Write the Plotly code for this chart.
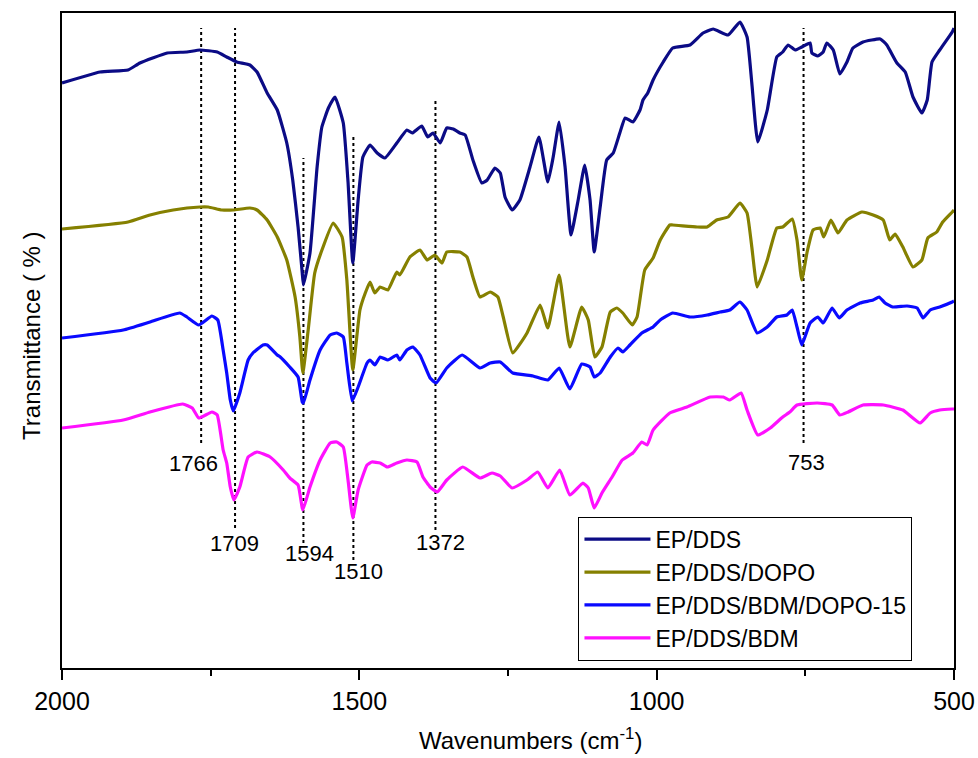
import plotly.graph_objects as go

# ---------------- data ----------------
wn_epdds = [2000, 1936, 1889, 1869, 1823, 1790, 1768, 1739, 1723, 1706, 1684, 1672, 1655, 1638, 1622, 1612,
            1603, 1596, 1594, 1583, 1571, 1563, 1552, 1541, 1527, 1519, 1511, 1502, 1494, 1482, 1470, 1457,
            1437, 1420, 1411, 1395, 1385, 1376, 1364, 1353, 1342, 1331, 1322, 1309, 1294, 1285, 1272, 1263,
            1255, 1243, 1230, 1213, 1198, 1183, 1174, 1164, 1154, 1144, 1132, 1121, 1112, 1105, 1095, 1084,
            1073, 1062, 1053, 1040, 1028, 1023, 1015, 1006, 989, 973, 944, 922, 905, 880, 860, 848, 840, 830,
            814, 798, 788, 779, 767, 756, 742, 739, 729, 720, 714, 703, 692, 680, 670, 653, 624, 613, 596,
            582, 569, 554, 545, 537, 524, 503, 500]
t_epdds = [585, 596, 598, 605, 615, 616, 618, 616, 611, 606, 603, 596, 575, 558, 525, 488,
           441, 395, 383, 415, 501, 541, 560, 571, 545, 486, 405, 468, 511, 523, 515, 510,
           525, 538, 535, 542, 531, 535, 525, 540, 539, 535, 533, 508, 485, 488, 500, 495,
           471, 458, 468, 501, 531, 486, 511, 546, 501, 433, 468, 503, 468, 416, 461, 508,
           515, 535, 550, 546, 558, 568, 575, 588, 606, 620, 623, 635, 639, 633, 646, 631, 585, 526,
           558, 611, 616, 623, 618, 621, 625, 615, 612, 616, 625, 618, 594, 606, 620, 626, 629, 623, 605,
           596, 571, 555, 568, 606, 618, 636, 640]

wn_dopo = [2000, 1889, 1852, 1813, 1768, 1754, 1731, 1712, 1684, 1672, 1655, 1638, 1622, 1608, 1600, 1595,
           1586, 1575, 1561, 1544, 1529, 1521, 1511, 1499, 1490, 1482, 1474, 1465, 1452, 1437, 1432, 1415,
           1398, 1386, 1373, 1361, 1353, 1331, 1319, 1309, 1297, 1280, 1267, 1258, 1242, 1218, 1196, 1183,
           1164, 1146, 1126, 1115, 1104, 1092, 1078, 1067, 1057, 1041, 1033, 1020, 1006, 994, 978, 973,
           932, 915, 899, 880, 860, 848, 840, 831, 814, 798, 788, 772, 764, 756, 747, 737, 725, 719, 707,
           695, 680, 655, 636, 619, 608, 599, 586, 569, 554, 544, 529, 519, 503, 500]
t_dopo = [439, 446, 453, 458, 461, 461, 458, 458, 460, 458, 448, 431, 408, 371, 331, 295,
          338, 395, 421, 445, 431, 388, 298, 358, 375, 386, 375, 381, 378, 396, 393, 411,
          418, 408, 413, 405, 416, 416, 411, 391, 371, 376, 371, 351, 315, 335, 363, 340,
          393, 321, 361, 348, 311, 321, 356, 360, 355, 343, 351, 398, 410, 428, 443, 443,
          441, 441, 448, 451, 465, 455, 421, 381, 408, 440, 441, 449, 428, 388, 416, 438, 440, 431, 448,
          435, 448, 456, 453, 448, 428, 434, 421, 401, 408, 430, 436, 446, 456, 458]

wn_bdm_dopo = [2000, 1897, 1852, 1802, 1790, 1770, 1748, 1738, 1729, 1723, 1717, 1712, 1701, 1687, 1679,
               1662, 1655, 1638, 1633, 1617, 1603, 1596, 1594, 1583, 1566, 1549, 1538, 1527, 1521, 1512,
               1502, 1487, 1482, 1474, 1465, 1452, 1437, 1432, 1420, 1410, 1398, 1381, 1371, 1353, 1327,
               1297, 1280, 1263, 1242, 1208, 1183, 1164, 1146, 1126, 1112, 1105, 1095, 1078, 1065, 1057,
               1045, 1025, 1006, 994, 973, 944, 915, 893, 877, 860, 848, 831, 814, 798, 781, 772, 764, 756,
               742, 729, 720, 705, 693, 680, 658, 636, 626, 616, 603, 579, 562, 552, 540, 524, 503, 500]
t_bdm_dopo = [330, 338, 346, 355, 351, 343, 352, 348, 318, 295, 268, 257, 275, 308, 315,
              323, 323, 313, 311, 301, 291, 266, 265, 288, 318, 333, 335, 331, 305, 267,
              281, 305, 308, 303, 311, 308, 313, 308, 318, 321, 313, 290, 285, 300, 313,
              300, 305, 306, 295, 292, 288, 300, 279, 304, 301, 291, 295, 311, 320, 316,
              323, 335, 341, 348, 355, 351, 353, 356, 358, 366, 358, 335, 341, 351, 353, 358, 341, 323,
              345, 351, 345, 360, 350, 358, 365, 368, 371, 365, 361, 362, 360, 350, 358, 361, 366, 367]

wn_bdm = [2000, 1897, 1852, 1797, 1781, 1770, 1748, 1739, 1729, 1723, 1717, 1711, 1701, 1687, 1672, 1650,
          1628, 1617, 1603, 1595, 1583, 1566, 1549, 1538, 1527, 1519, 1511, 1502, 1487, 1479, 1465, 1453,
          1437, 1420, 1403, 1393, 1381, 1369, 1353, 1326, 1297, 1277, 1263, 1243, 1218, 1200, 1183, 1163,
          1146, 1124, 1115, 1105, 1092, 1075, 1058, 1040, 1025, 1016, 1006, 978, 949, 910, 888, 877, 858,
          848, 830, 809, 788, 776, 764, 730, 705, 692, 678, 653, 619, 586, 557, 540, 524, 503, 500]
t_bdm = [240, 248, 256, 264, 260, 250, 256, 253, 218, 205, 181, 168, 181, 211, 216, 211,
         198, 190, 183, 158, 181, 208, 225, 226, 221, 188, 150, 178, 203, 206, 205, 201,
         205, 208, 206, 191, 181, 176, 188, 201, 190, 195, 192, 180, 188, 196, 180, 198,
         173, 185, 180, 160, 175, 191, 208, 215, 226, 223, 238, 255, 261, 271, 271, 268, 275,
         258, 233, 240, 251, 256, 263, 265, 263, 253, 256, 263, 263, 258, 245, 255, 258, 259, 259]

series_names = ["EP/DDS", "EP/DDS/DOPO", "EP/DDS/BDM/DOPO-15", "EP/DDS/BDM"]
series_colors = ["#0b0b85", "#858000", "#0a0aff", "#ff10ff"]

peak_wn = [1766, 1709, 1594, 1510, 1372, 753]
peak_labels = ["1766", "1709", "1594", "1510", "1372", "753"]

x_ticks = [2000, 1500, 1000, 500]
x_tick_text = ["2000", "1500", "1000", "500"]
x_minor_ticks = [1750, 1250, 750]

# ---------------- layout constants (positions, not data) ----------------
guide_top = [640, 640, 510, 533, 569, 640]
guide_bottom = [225, 140, 125, 108, 138, 225]
label_y = [205, 125, 115, 97, 126, 206]
label_dx = [-8, -1, 6, 5, 5, 3]

FONT = "Liberation Sans, Arial, sans-serif"

fig = go.Figure()
all_x = [wn_epdds, wn_dopo, wn_bdm_dopo, wn_bdm]
all_y = [t_epdds, t_dopo, t_bdm_dopo, t_bdm]
for xs, ys, name, col in zip(all_x, all_y, series_names, series_colors):
    fig.add_trace(go.Scatter(x=xs, y=ys, mode="lines", name=name,
                             line=dict(color=col, width=3.2, shape="spline", smoothing=0.4)))

for wn, y0, y1 in zip(peak_wn, guide_bottom, guide_top):
    fig.add_shape(type="line", x0=wn, x1=wn, y0=y0, y1=y1, xref="x", yref="y",
                  line=dict(color="black", width=2, dash="dot"), layer="below")

for wn, txt, ly, dx in zip(peak_wn, peak_labels, label_y, label_dx):
    fig.add_annotation(x=wn, y=ly, text=txt, showarrow=False, xshift=dx,
                       font=dict(family=FONT, size=22, color="black"))

fig.add_annotation(x=0.525, y=-0.134, xref="paper", yref="paper", text="Wavenumbers (cm<sup>-1</sup>)",
                   showarrow=False, yanchor="bottom", xanchor="center",
                   font=dict(family=FONT, size=24, color="black"))
fig.add_annotation(x=-0.034, y=0.508, xref="paper", yref="paper", text="Transmittance ( % )",
                   showarrow=False, textangle=-90, xanchor="center", yanchor="middle",
                   font=dict(family=FONT, size=24, color="black"))

fig.update_layout(
    width=978, height=758, autosize=False,
    margin=dict(l=62, r=24, t=13, b=90, autoexpand=False),
    paper_bgcolor="white", plot_bgcolor="white",
    showlegend=True,
    legend=dict(x=0.579, y=0.231, xanchor="left", yanchor="top",
                bordercolor="black", borderwidth=1, bgcolor="white",
                font=dict(family=FONT, size=23, color="black"),
                tracegroupgap=0, itemwidth=66),
    xaxis=dict(range=[2000, 500], tickvals=x_ticks, ticktext=x_tick_text,
               ticks="outside", ticklen=10, tickwidth=2, tickcolor="black",
               showline=True, linewidth=2, linecolor="black", mirror=True,
               showgrid=False, zeroline=False, automargin=False,
               tickfont=dict(family=FONT, size=25, color="black"),
               minor=dict(ticks="outside", ticklen=6, tickwidth=2, tickcolor="black",
                          tickvals=x_minor_ticks, showgrid=False)),
    yaxis=dict(range=[0, 655], showticklabels=False, ticks="", automargin=False,
               showline=True, linewidth=2, linecolor="black", mirror=True,
               showgrid=False, zeroline=False),
)

fig.write_html("out.html")
